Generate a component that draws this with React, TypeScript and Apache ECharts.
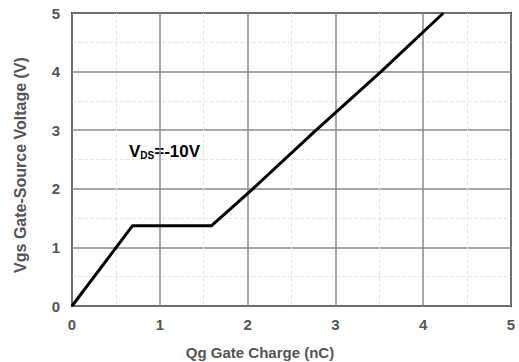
import React, { useEffect, useRef } from "react";
import * as echarts from "echarts";

const chargeNC = [0, 0.69, 1.59, 2.06, 2.78, 3.52, 4.23];
const gateVolts = [0, 1.37, 1.37, 2, 3, 4, 5];
const xTicks = [0, 1, 2, 3, 4, 5];
const yTicks = [0, 1, 2, 3, 4, 5];

export default function App() {
  const ref = useRef<HTMLDivElement>(null);
  useEffect(() => {
    if (!ref.current) return;
    document.body.style.margin = "0";
    const chart = echarts.init(ref.current, undefined, { renderer: "svg" });
    const font = "Liberation Sans, Arial, sans-serif";
    chart.setOption({
      animation: false,
      grid: { left: 72, right: 8, top: 13, bottom: 56, show: true, borderColor: "#222", borderWidth: 2 },
      xAxis: {
        type: "value",
        min: xTicks[0],
        max: xTicks[xTicks.length - 1],
        interval: 1,
        axisLine: { show: false },
        axisTick: { show: false },
        axisLabel: { color: "#555", fontWeight: "bold", fontSize: 15, fontFamily: font, margin: 11 },
        splitLine: { show: true, lineStyle: { color: "#8a8a8a", width: 1.5 } },
        minorTick: { show: false, splitNumber: 2 },
        minorSplitLine: { show: true, lineStyle: { color: "#e6e6e6", type: "dashed", width: 1 } },
      },
      yAxis: {
        type: "value",
        min: yTicks[0],
        max: yTicks[yTicks.length - 1],
        interval: 1,
        axisLine: { show: false },
        axisTick: { show: false },
        axisLabel: { color: "#555", fontWeight: "bold", fontSize: 15, fontFamily: font, margin: 12 },
        splitLine: { show: true, lineStyle: { color: "#8a8a8a", width: 1.5 } },
        minorTick: { show: false, splitNumber: 2 },
        minorSplitLine: { show: true, lineStyle: { color: "#e6e6e6", type: "dashed", width: 1 } },
      },
      series: [
        {
          type: "line",
          data: chargeNC.map((x, i) => [x, gateVolts[i]]),
          symbol: "none",
          lineStyle: { color: "#000", width: 3 },
        },
      ],
      graphic: [
        {
          type: "text",
          x: 260,
          y: 352,
          style: {
            text: "Qg Gate Charge (nC)",
            fill: "#555",
            font: "bold 15px Liberation Sans, Arial, sans-serif",
            textAlign: "center",
            textVerticalAlign: "middle",
          },
        },
        {
          type: "text",
          x: 20,
          y: 165,
          rotation: Math.PI / 2,
          style: {
            text: "Vgs Gate-Source Voltage (V)",
            fill: "#555",
            font: "bold 16px Liberation Sans, Arial, sans-serif",
            textAlign: "center",
            textVerticalAlign: "middle",
          },
        },
        {
          type: "text",
          x: 129,
          y: 150,
          style: {
            text: "{v|V}{s|DS}{v|=-10V}",
            textVerticalAlign: "middle",
            rich: {
              v: { fill: "#000", font: "bold 17px Liberation Sans, Arial, sans-serif", verticalAlign: "bottom", lineHeight: 20 },
              s: { fill: "#000", font: "bold 10px Liberation Sans, Arial, sans-serif", verticalAlign: "bottom", lineHeight: 17 },
            },
          },
        },
      ],
    });
    return () => chart.dispose();
  }, []);
  return <div ref={ref} style={{ width: 519, height: 362 }} />;
}
